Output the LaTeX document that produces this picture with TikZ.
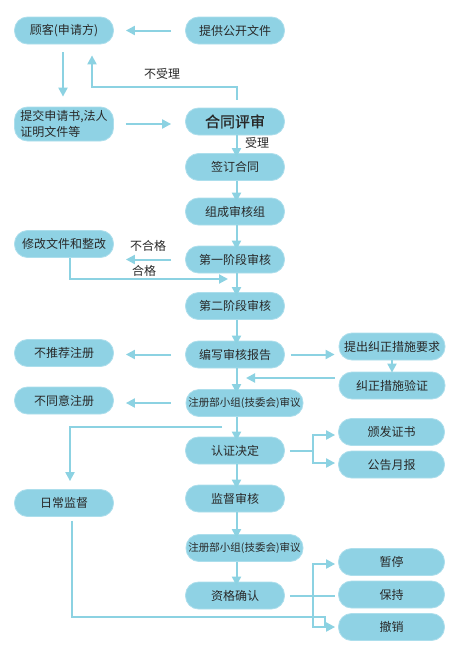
\documentclass[tikz,border=0pt]{standalone}
\usepackage{fontspec}
\newfontfamily\cjk{Noto Sans CJK SC}
\newfontfamily\cjkm[FakeBold=0.8]{Noto Sans CJK SC}
\usetikzlibrary{arrows.meta}
\definecolor{boxfill}{RGB}{143,210,228}
\definecolor{boxedge}{RGB}{172,222,236}
\definecolor{arrc}{RGB}{140,210,226}
\definecolor{txt}{RGB}{40,40,40}
\tikzset{
  stepbox/.style={draw=boxedge, line width=0.8pt, fill=boxfill, rounded corners=13pt,
    minimum width=99pt, minimum height=27pt, inner sep=0pt, text=txt,
    font=\cjk\fontsize{12}{14}\selectfont},
  widebox/.style={stepbox, minimum width=117pt, font=\cjk\fontsize{10.5}{12}\selectfont},
  lbl/.style={text=txt, font=\cjk\fontsize{12}{14}\selectfont, inner sep=0pt},
  arr/.style={draw=arrc, line width=2pt, -{Triangle[length=9pt,width=9pt]}},
  ln/.style={draw=arrc, line width=2pt}
}
\begin{document}
\begin{tikzpicture}[x=1pt,y=-1pt]
\useasboundingbox[fill=white] (0,0) rectangle (458,653);
% left column
\node[stepbox] (cust) at (64,30.5) {顾客(申请方)};
\node[stepbox, minimum height=34pt, align=left, font=\cjk\fontsize{12}{16}\selectfont] (sub) at (64,124) {提交申请书,法人\\证明文件等};
\node[stepbox] (mod) at (64,244) {修改文件和整改};
\node[stepbox] (nrec) at (64,353) {不推荐注册};
\node[stepbox] (ndis) at (64,400.5) {不同意注册};
\node[stepbox] (daily) at (64,503) {日常监督};
% main column
\node[stepbox] (prov) at (235,30.5) {提供公开文件};
\node[stepbox, font=\cjkm\fontsize{15}{17}\selectfont] (ht) at (235,121.5) {合同评审};
\node[stepbox] (sign) at (235,167) {签订合同};
\node[stepbox] (grp) at (235,211.5) {组成审核组};
\node[stepbox] (s1) at (235,259.5) {第一阶段审核};
\node[stepbox] (s2) at (235,306) {第二阶段审核};
\node[stepbox] (rep) at (235,354.5) {编写审核报告};
\node[widebox] (reg1) at (244.5,403) {注册部小组(技委会)审议};
\node[stepbox] (dec) at (235,450.5) {认证决定};
\node[stepbox] (sup) at (235,498.5) {监督审核};
\node[widebox] (reg2) at (244.5,548) {注册部小组(技委会)审议};
\node[stepbox] (qual) at (235,595.5) {资格确认};
% right column
\node[stepbox, minimum width=106pt] (corr) at (392,346.5) {提出纠正措施要求};
\node[stepbox, minimum width=106pt] (ver) at (392,385.5) {纠正措施验证};
\node[stepbox, minimum width=106pt] (cert) at (391.5,432) {颁发证书};
\node[stepbox, minimum width=106pt] (pub) at (391.5,464.5) {公告月报};
\node[stepbox, minimum width=106pt] (pause) at (391.5,562) {暂停};
\node[stepbox, minimum width=106pt] (keep) at (391.5,594.5) {保持};
\node[stepbox, minimum width=106pt] (rev) at (391.5,627) {撤销};
% labels
\node[lbl] (lno) at (162,74) {不受理};
\node[lbl] (lyes) at (257,143) {受理};
\node[lbl] (lfail) at (148,246) {不合格};
\node[lbl] (lpass) at (144,271) {合格};
% coordinates
\coordinate (nr) at (92,87);
\coordinate (hg) at (228,279);
\coordinate (vend) at (246,378);
\coordinate (dstart) at (222,427);
\coordinate (sp1) at (313,450.5);
\coordinate (sp2) at (313,595.5);
\coordinate (jn) at (325,627);
% top connectors
\draw[arr] ([xshift=-14pt]prov.west) -- ([xshift=12pt]cust.east);
\draw[arr] ([xshift=-1pt,yshift=-8pt]cust.south) -- ([xshift=-1pt,yshift=10pt]sub.north);
\draw[arr] ([xshift=12pt]sub.east) -- ([xshift=-14pt]ht.west |- sub.east);
\draw[arr] ([xshift=1.5pt,yshift=8pt]ht.north) |- (nr) -- ([yshift=-11pt]cust.south -| nr);
% main column
\draw[arr] ([xshift=1.5pt]ht.south) -- ([xshift=1.5pt,yshift=-4pt]sign.north);
\draw[arr] ([xshift=1.5pt]sign.south) -- ([xshift=1.5pt,yshift=-4pt]grp.north);
\draw[arr] ([xshift=1.5pt]grp.south) -- ([xshift=1.5pt,yshift=-4pt]s1.north);
\draw[arr] ([xshift=1.5pt]s1.south) -- ([xshift=1.5pt,yshift=-4pt]s2.north);
\draw[arr] ([xshift=1.5pt]s2.south) -- ([xshift=1.5pt,yshift=-4pt]rep.north);
\draw[arr] ([xshift=1.5pt]rep.south) -- ([xshift=1.5pt,yshift=-4pt]reg1.north -| rep.south);
\draw[arr] ([xshift=1.5pt]reg1.south -| dec.north) -- ([xshift=1.5pt,yshift=-4pt]dec.north);
\draw[arr] ([xshift=1.5pt]dec.south) -- ([xshift=1.5pt,yshift=-4pt]sup.north);
\draw[arr] ([xshift=1.5pt]sup.south) -- ([xshift=1.5pt,yshift=-4pt]reg2.north -| sup.south);
\draw[arr] ([xshift=1.5pt]reg2.south -| qual.north) -- ([xshift=1.5pt,yshift=-4pt]qual.north);
% side connectors
\draw[arr] ([xshift=-14pt]s1.west) -- ([xshift=12pt]s1.west -| mod.east);
\draw[arr] ([xshift=6pt]mod.south) |- (hg);
\draw[arr] ([xshift=-14pt]rep.west) -- ([xshift=12pt]rep.west -| nrec.east);
\draw[arr] ([xshift=6pt]rep.east) -- ([xshift=-4pt]rep.east -| corr.west);
\draw[arr] (corr.south) -- ([yshift=-1pt]ver.north);
\draw[arr] ([xshift=-4pt,yshift=7.5pt]ver.west) -- (vend);
\draw[arr] ([xshift=-15pt]reg1.west) -- ([xshift=12pt]reg1.west -| ndis.east);
\draw[arr] (dstart) -| ([xshift=6pt,yshift=8pt]daily.north);
\draw[ln] ([xshift=5pt]dec.east) -- (sp1);
\draw[arr] (sp1) |- ([xshift=-3pt,yshift=-3pt]cert.west);
\draw[arr] (sp1) |- ([xshift=-3pt,yshift=1.5pt]pub.west);
\draw[ln] ([xshift=5pt]qual.east) -- ([xshift=-3pt]keep.west |- qual.east);
\draw[arr] (sp2) |- ([xshift=-3pt,yshift=-2pt]pause.west);
\draw[arr] (sp2) |- ([xshift=-3pt]rev.west);
\draw[ln] ([xshift=8pt,yshift=-4pt]daily.south) |- ([yshift=10pt]jn) -- (jn);
\end{tikzpicture}
\end{document}
